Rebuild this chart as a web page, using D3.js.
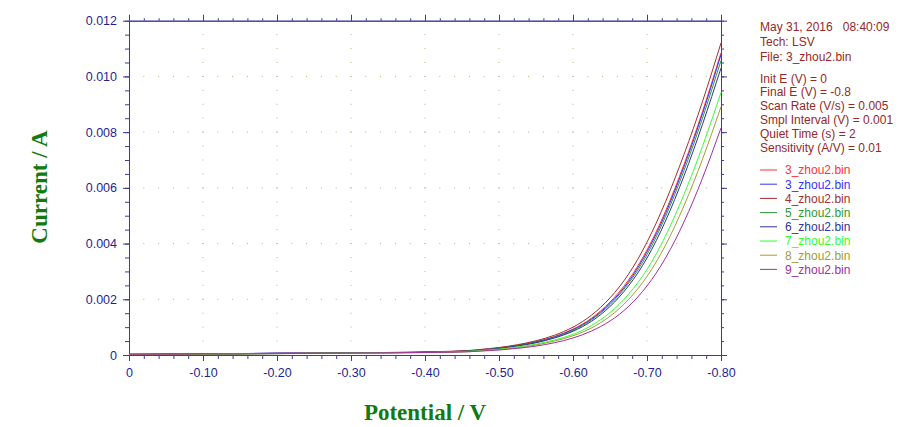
<!DOCTYPE html>
<html>
<head>
<meta charset="utf-8">
<script src="https://cdn.jsdelivr.net/npm/d3@7"></script>
<style>
  body { margin: 0; background: #fff; }
  text { font-family: "Liberation Sans", Arial, sans-serif; }
</style>
</head>
<body>
<script>
const potentials = [0, -0.05, -0.10, -0.15, -0.20, -0.25, -0.30, -0.35, -0.40, -0.45, -0.475, -0.50,
  -0.525, -0.55, -0.575, -0.60, -0.625, -0.65, -0.675, -0.70, -0.725, -0.75, -0.775, -0.80];

const current3a = [0.00002, 0.00003, 0.00004, 0.00005, 0.00006, 0.00007, 0.00008, 0.00009, 0.00010, 0.00014, 0.00019, 0.00025,
  0.00035, 0.00048, 0.00066, 0.00093, 0.00132, 0.00190, 0.00269, 0.00377, 0.00516, 0.00684, 0.00874, 0.01085];
const current3b = [0.00002, 0.00003, 0.00004, 0.00005, 0.00007, 0.00007, 0.00008, 0.00009, 0.00010, 0.00014, 0.00018, 0.00025,
  0.00034, 0.00047, 0.00065, 0.00091, 0.00129, 0.00185, 0.00263, 0.00370, 0.00508, 0.00676, 0.00866, 0.01078];
const current4 = [0.00003, 0.00003, 0.00004, 0.00005, 0.00006, 0.00007, 0.00008, 0.00009, 0.00011, 0.00015, 0.00020, 0.00027,
  0.00037, 0.00051, 0.00071, 0.00100, 0.00143, 0.00205, 0.00290, 0.00405, 0.00550, 0.00720, 0.00910, 0.01120];
const current5 = [0.00002, 0.00003, 0.00003, 0.00004, 0.00005, 0.00006, 0.00007, 0.00008, 0.00010, 0.00013, 0.00018, 0.00024,
  0.00033, 0.00045, 0.00063, 0.00088, 0.00126, 0.00181, 0.00257, 0.00360, 0.00497, 0.00662, 0.00850, 0.01057];
const current6 = [0.00002, 0.00003, 0.00004, 0.00005, 0.00006, 0.00006, 0.00007, 0.00008, 0.00010, 0.00013, 0.00017, 0.00023,
  0.00032, 0.00044, 0.00061, 0.00085, 0.00121, 0.00174, 0.00248, 0.00348, 0.00481, 0.00643, 0.00828, 0.01030];
const current7 = [0.00002, 0.00002, 0.00003, 0.00004, 0.00005, 0.00006, 0.00007, 0.00008, 0.00009, 0.00012, 0.00016, 0.00021,
  0.00029, 0.00039, 0.00054, 0.00074, 0.00106, 0.00152, 0.00218, 0.00307, 0.00427, 0.00576, 0.00749, 0.00942];
const current8 = [0.00002, 0.00002, 0.00003, 0.00004, 0.00005, 0.00006, 0.00006, 0.00007, 0.00009, 0.00011, 0.00015, 0.00020,
  0.00026, 0.00036, 0.00050, 0.00069, 0.00097, 0.00139, 0.00199, 0.00282, 0.00394, 0.00536, 0.00703, 0.00891];
const current9 = [0.00003, 0.00003, 0.00004, 0.00004, 0.00005, 0.00006, 0.00007, 0.00008, 0.00009, 0.00011, 0.00014, 0.00018,
  0.00024, 0.00032, 0.00044, 0.00061, 0.00086, 0.00122, 0.00174, 0.00248, 0.00348, 0.00478, 0.00635, 0.00815];

const seriesNames = ["3_zhou2.bin", "3_zhou2.bin", "4_zhou2.bin", "5_zhou2.bin", "6_zhou2.bin", "7_zhou2.bin", "8_zhou2.bin", "9_zhou2.bin"];
const seriesValues = [current3a, current3b, current4, current5, current6, current7, current8, current9];
const seriesColors = ["#ff3333", "#3333ff", "#a03030", "#339933", "#333399", "#33ff33", "#a0a030", "#a030a0"];

const xMajor = [0, -0.1, -0.2, -0.3, -0.4, -0.5, -0.6, -0.7, -0.8];
const yMajor = [0, 0.002, 0.004, 0.006, 0.008, 0.010, 0.012];

const infoHeader = ["May 31, 2016   08:40:09", "Tech: LSV", "File: 3_zhou2.bin"];
const infoParams = ["Init E (V) = 0", "Final E (V) = -0.8", "Scan Rate (V/s) = 0.005",
  "Smpl Interval (V) = 0.001", "Quiet Time (s) = 2", "Sensitivity (A/V) = 0.01"];

const axisColor = "#3c3c98", labelColor = "#1f1f8f", infoColor = "#962828", titleColor = "#117a11";
const serif = "'Liberation Serif', 'Times New Roman', serif";

const svg = d3.select("body").append("svg").attr("width", 900).attr("height", 427);

const x = d3.scaleLinear().domain([0, -0.8]).range([129, 721]);
const y = d3.scaleLinear().domain([0, 0.012]).range([355, 20.7]);

const xMinor = d3.range(0, 41).map(i => -i * 0.02);
const yMinor = d3.range(0, 25).map(i => i * 0.0005);

// dotted grid: horizontal rows at major currents, vertical columns at major potentials
const grid = svg.append("g").attr("fill", "#a9bb78");
yMajor.slice(1, -1).forEach(v => {
  xMinor.slice(1, -1).forEach(u => grid.append("rect")
    .attr("x", x(u) - 0.5).attr("y", y(v) - 0.5).attr("width", 1).attr("height", 1));
});
xMajor.slice(1, -1).forEach(u => {
  yMinor.slice(1, -1).forEach(v => grid.append("rect")
    .attr("x", x(u) - 0.5).attr("y", y(v) - 0.5).attr("width", 1).attr("height", 1));
});

function styleAxis(g) {
  g.selectAll("path").attr("stroke", axisColor);
  g.selectAll("line").attr("stroke", axisColor);
  g.selectAll("text").attr("fill", labelColor).attr("font-size", "12.5px");
}

// minor ticks first, then the labelled major ticks
svg.append("g").attr("transform", "translate(129,0)")
  .call(d3.axisLeft(y).tickValues(yMinor).tickSize(4).tickSizeOuter(0).tickFormat(""))
  .call(styleAxis);
svg.append("g").attr("transform", "translate(129,0)")
  .call(d3.axisLeft(y).tickValues(yMajor).tickSize(6).tickSizeOuter(0).tickPadding(6)
    .tickFormat(d => d === 0 ? "0" : d.toFixed(3)))
  .call(styleAxis);

svg.append("g").attr("transform", "translate(721,0)")
  .call(d3.axisRight(y).tickValues(yMinor).tickSize(3).tickSizeOuter(0).tickFormat(""))
  .call(styleAxis);
svg.append("g").attr("transform", "translate(721,0)")
  .call(d3.axisRight(y).tickValues(yMajor).tickSize(6).tickSizeOuter(0).tickFormat(""))
  .call(styleAxis);

svg.append("g").attr("transform", "translate(0,355)")
  .call(d3.axisBottom(x).tickValues(xMinor).tickSize(4).tickSizeOuter(0).tickFormat(""))
  .call(styleAxis);
svg.append("g").attr("transform", "translate(0,355)")
  .call(d3.axisBottom(x).tickValues(xMajor).tickSize(6).tickSizeOuter(0).tickPadding(7)
    .tickFormat(d => d === 0 ? "0" : d.toFixed(2)))
  .call(styleAxis);

svg.append("g").attr("transform", "translate(0,20.7)")
  .call(d3.axisTop(x).tickValues(xMinor).tickSize(2.5).tickSizeOuter(0).tickFormat(""))
  .call(styleAxis);
svg.append("g").attr("transform", "translate(0,20.7)")
  .call(d3.axisTop(x).tickValues(xMajor).tickSize(6).tickSizeOuter(0).tickFormat(""))
  .call(styleAxis);

// curves
const line = d3.line()
  .x((d, i) => x(potentials[i]))
  .y(d => y(d))
  .curve(d3.curveNatural);

svg.append("g").attr("fill", "none").attr("stroke-width", 1)
  .selectAll("path").data(seriesValues).join("path")
  .attr("stroke", (d, i) => seriesColors[i])
  .attr("d", line);

// axis titles
svg.append("text")
  .attr("x", 425).attr("y", 420)
  .attr("text-anchor", "middle")
  .style("font-family", serif)
  .attr("font-weight", "bold").attr("font-size", "23px")
  .attr("fill", titleColor)
  .text("Potential / V");

svg.append("text")
  .attr("transform", "translate(47,187) rotate(-90)")
  .attr("text-anchor", "middle")
  .style("font-family", serif)
  .attr("font-weight", "bold").attr("font-size", "23px")
  .attr("fill", titleColor)
  .text("Current / A");

// experiment info block
const info = svg.append("g").attr("fill", infoColor).attr("font-size", "12px");
infoHeader.forEach((t, i) => info.append("text")
  .attr("x", 760).attr("y", 31 + i * 14.9).style("white-space", "pre").text(t));
infoParams.forEach((t, i) => info.append("text")
  .attr("x", 760).attr("y", 82.5 + i * 13.9).text(t));

// legend
const legend = svg.append("g").selectAll("g").data(seriesNames).join("g")
  .attr("transform", (d, i) => `translate(760,${170 + i * 14.2})`);
legend.append("line").attr("x1", 0).attr("x2", 17)
  .attr("stroke", (d, i) => seriesColors[i]).attr("stroke-width", 1);
legend.append("text").attr("x", 25).attr("y", 4.3).attr("font-size", "12px")
  .attr("fill", (d, i) => seriesColors[i]).text(d => d);
</script>
</body>
</html>
